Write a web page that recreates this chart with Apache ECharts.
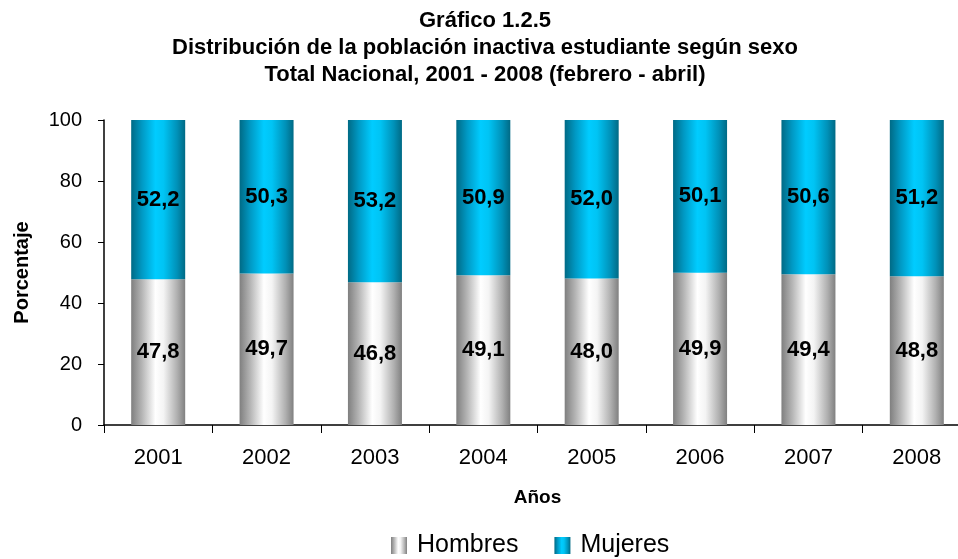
<!DOCTYPE html>
<html><head><meta charset="utf-8">
<script src="https://cdn.jsdelivr.net/npm/echarts@6/dist/echarts.min.js"></script>
<style>html,body{margin:0;padding:0;background:#fff}#c{width:958px;height:559px}</style>
</head><body><div id="c"></div>
<script>
const categories = ['2001','2002','2003','2004','2005','2006','2007','2008'];
const hombres = [47.8, 49.7, 46.8, 49.1, 48.0, 49.9, 49.4, 48.8];
const mujeres = [52.2, 50.3, 53.2, 50.9, 52.0, 50.1, 50.6, 51.2];
const yTicks = [0, 20, 40, 60, 80, 100];

const F = 'Arial, "Liberation Sans", sans-serif';
const greyGrad = new echarts.graphic.LinearGradient(0,0,1,0,[
  {offset:0,color:'#7f7f7f'},{offset:0.2,color:'#b5b5b5'},{offset:0.45,color:'#ffffff'},
  {offset:0.6,color:'#f4f4f4'},{offset:0.85,color:'#b0b0b0'},{offset:1,color:'#808080'}]);
const blueGrad = new echarts.graphic.LinearGradient(0,0,1,0,[
  {offset:0,color:'#006a85'},{offset:0.2,color:'#0099c4'},{offset:0.45,color:'#00ccff'},
  {offset:0.6,color:'#00c4f4'},{offset:0.85,color:'#0091b8'},{offset:1,color:'#006a85'}]);
const fmt = p => p.value.toFixed(1).replace('.', ',');
const chart = echarts.init(document.getElementById('c'));
chart.setOption({
  animation:false,
  title:{
    text:'Gráfico 1.2.5\nDistribución de la población inactiva estudiante según sexo\nTotal Nacional, 2001 - 2008 (febrero - abril)',
    left:480, top:2, textAlign:'center',
    textStyle:{fontFamily:F,fontSize:22,fontWeight:'bold',color:'#000',lineHeight:27}
  },
  legend:{
    top:528, left:386, itemWidth:16, itemHeight:17, itemGap:36, icon:'rect',
    textStyle:{fontFamily:F,fontSize:25,color:'#000',padding:[0,0,0,5]},
    data:['Hombres','Mujeres']
  },
  grid:{left:104, top:120, right:-13, height:305, outerBoundsMode:'none', containLabel:false},
  xAxis:{
    type:'category', data:categories,
    axisLine:{lineStyle:{color:'#000',width:1.5}},
    axisTick:{show:true,length:8,lineStyle:{color:'#000'}},
    axisLabel:{fontFamily:F,fontSize:22,color:'#000',margin:22},
    name:'Años', nameLocation:'middle', nameGap:63,
    nameTextStyle:{fontFamily:F,fontSize:19,fontWeight:'bold',color:'#000'}
  },
  yAxis:{
    type:'value', min:yTicks[0], max:yTicks[yTicks.length-1], interval:20,
    axisLine:{show:true,lineStyle:{color:'#000',width:1.5}},
    axisTick:{show:true,length:6,lineStyle:{color:'#000'}},
    splitLine:{show:false},
    axisLabel:{fontFamily:F,fontSize:20,color:'#000',margin:22},
    name:'Porcentaje', nameLocation:'middle', nameGap:72, nameRotate:90,
    nameTextStyle:{fontFamily:F,fontSize:20,fontWeight:'bold',color:'#000'}
  },
  series:[
    {name:'Hombres',type:'bar',stack:'t',data:hombres,barWidth:54,itemStyle:{color:greyGrad},
     label:{show:true,position:'inside',formatter:fmt,fontFamily:F,fontSize:22,fontWeight:'bold',color:'#000'}},
    {name:'Mujeres',type:'bar',stack:'t',data:mujeres,barWidth:54,itemStyle:{color:blueGrad},
     label:{show:true,position:'inside',formatter:fmt,fontFamily:F,fontSize:22,fontWeight:'bold',color:'#000'}}
  ]
});
</script></body></html>
